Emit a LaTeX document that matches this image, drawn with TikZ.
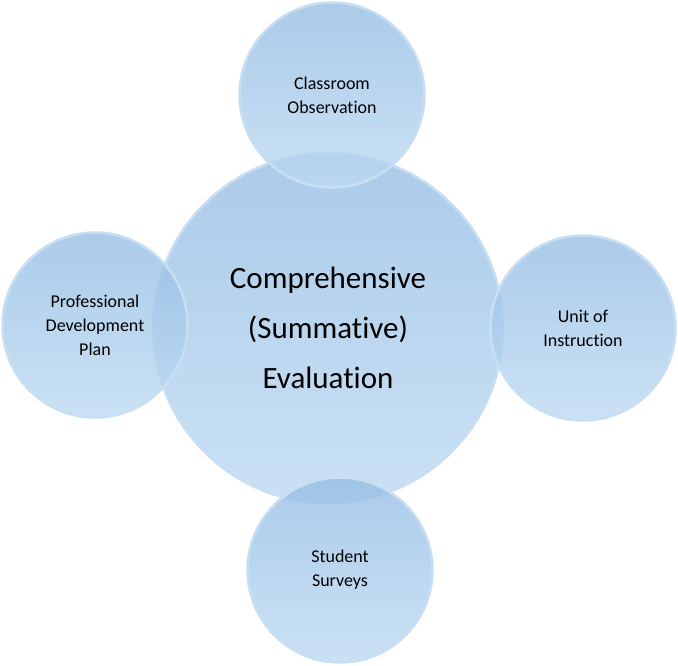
\documentclass[tikz,border=0pt]{standalone}
\usepackage{fontspec}
\setmainfont[Ligatures=NoCommon]{Carlito}
\definecolor{ringcolor}{RGB}{200, 222, 242}
\definecolor{topfill}{RGB}{150, 190, 228}
\definecolor{bottomfill}{RGB}{190, 218, 242}
\tikzstyle{bubble} = [circle, draw=ringcolor, line width=2.5pt, top color=topfill, bottom color=bottomfill, fill opacity=0.8, text opacity=1, align=center, inner sep=0pt, font=\fontsize{18}{24}\selectfont]
\tikzstyle{hub} = [bubble, minimum size=350pt, font=\fontsize{31}{50}\selectfont]
\tikzstyle{satellite} = [bubble, minimum size=185pt]
\begin{document}
\begin{tikzpicture}[x=1pt, y=1pt]
		\useasboundingbox (0,0) rectangle (678,666);
		
		%
		% Hub
		\node [hub] (evaluation) at (328,338) {Comprehensive\\(Summative)\\Evaluation};
		
		%
		% Satellites
		\node [satellite] (observation) at (332,571) {Classroom\\Observation};
		\node [satellite] (plan) at (95,341) {Professional\\Development\\Plan};
		\node [satellite] (unit) at (583,338) {Unit of\\Instruction};
		\node [satellite] (surveys) at (340,96) {Student\\Surveys};
	
	\end{tikzpicture}
\end{document}
